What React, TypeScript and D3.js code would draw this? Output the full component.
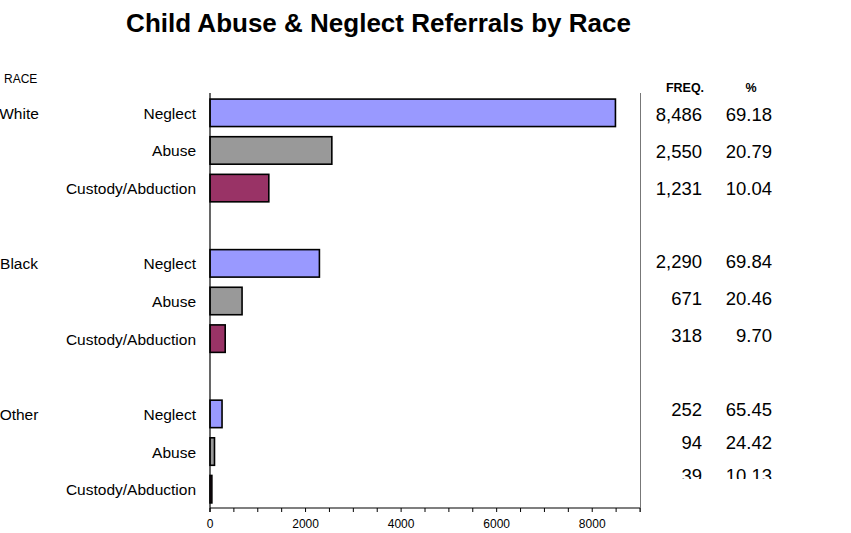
import React from "react";
import * as d3 from "d3";

const title = "Child Abuse & Neglect Referrals by Race";
const races = ["White", "Black", "Other"];
const categories = ["Neglect", "Abuse", "Custody/Abduction"];
const neglectFreq = [8486, 2290, 252];
const abuseFreq = [2550, 671, 94];
const custodyFreq = [1231, 318, 39];
const neglectPct = [69.18, 69.84, 65.45];
const abusePct = [20.79, 20.46, 24.42];
const custodyPct = [10.04, 9.7, 10.13];
const xTickLabels = [0, 2000, 4000, 6000, 8000];
const xMax = 9000;
const minorStep = 500;

const colors: Record<string, string> = {
  Neglect: "#9999FF",
  Abuse: "#999999",
  "Custody/Abduction": "#993366",
};

const W = 851;
const H = 533;
const plotLeft = 210;
const plotRight = 640;
const plotTop = 94;
const plotBottom = 508;
const FONT = "'Liberation Sans', Arial, Helvetica, sans-serif";

type Row = { key: string; race: string; cat: string; freq: number; pct: number; idx: number; first: boolean };

export default function App() {
  const freqByCat = [neglectFreq, abuseFreq, custodyFreq];
  const pctByCat = [neglectPct, abusePct, custodyPct];

  const rows: Row[] = [];
  const slots: string[] = [];
  races.forEach((race, ri) => {
    categories.forEach((cat, ci) => {
      const key = `${race}|${cat}`;
      rows.push({ key, race, cat, freq: freqByCat[ci][ri], pct: pctByCat[ci][ri], idx: slots.length, first: ci === 0 });
      slots.push(key);
    });
    if (ri < races.length - 1) slots.push(`gap${ri}`);
  });

  const x = d3.scaleLinear().domain([0, xMax]).range([plotLeft, plotRight]);
  const y = d3
    .scaleBand<string>()
    .domain(slots)
    .range([plotTop, plotBottom])
    .paddingInner(0.27)
    .paddingOuter(0.135);

  // table row baselines (separate text box in the original)
  const tableY = d3.scaleLinear().domain([0, 4, 8, 10]).range([121, 268, 416, 482]);

  const minorTicks = d3.range(0, xMax + 1, minorStep);
  const fmtFreq = d3.format(",");
  const fmtPct = (v: number) => v.toFixed(2);

  return (
    <svg
      width={W}
      height={H}
      style={{ position: "absolute", left: 0, top: 0, display: "block", background: "#fff" }}
      fontFamily={FONT}
    >
      <defs>
        <clipPath id="tableClip">
          <rect x={645} y={60} width={200} height={419} />
        </clipPath>
      </defs>
      <rect x={0} y={0} width={W} height={H} fill="#fff" />

      <text x={378.5} y={31.5} textAnchor="middle" fontSize={26} fontWeight="bold" fill="#000">
        {title}
      </text>

      <text x={4} y={83} fontSize={12} fill="#000">RACE</text>

      {/* bars */}
      {rows.map((r) => (
        <rect
          key={r.key}
          x={x(0)}
          y={y(r.key)!}
          width={Math.max(0, x(r.freq) - x(0))}
          height={y.bandwidth()}
          fill={colors[r.cat]}
          stroke="#000"
          strokeWidth={1.6}
        />
      ))}

      {/* category labels */}
      {rows.map((r) => (
        <text
          key={"c" + r.key}
          x={196}
          y={y(r.key)! + y.bandwidth() / 2 + 6}
          textAnchor="end"
          fontSize={15.5}
          fill="#000"
        >
          {r.cat}
        </text>
      ))}

      {/* race labels */}
      {rows
        .filter((r) => r.first)
        .map((r) => (
          <text
            key={"r" + r.race}
            x={19}
            y={y(r.key)! + y.bandwidth() / 2 + 6}
            textAnchor="middle"
            fontSize={15.5}
            fill="#000"
          >
            {r.race}
          </text>
        ))}

      {/* left axis line */}
      <line x1={plotLeft} x2={plotLeft} y1={plotTop - 1} y2={plotBottom + 4} stroke="#000" strokeWidth={1.2} />
      {/* right border line */}
      <line x1={plotRight + 0.5} x2={plotRight + 0.5} y1={plotTop - 1} y2={plotBottom + 4} stroke="#777" strokeWidth={1} />

      {/* x axis */}
      <line x1={plotLeft} x2={plotRight} y1={plotBottom} y2={plotBottom} stroke="#000" strokeWidth={1.2} />
      {minorTicks.map((t) => (
        <line key={"t" + t} x1={x(t)} x2={x(t)} y1={plotBottom} y2={plotBottom + 4} stroke="#000" strokeWidth={1} />
      ))}
      {xTickLabels.map((t) => (
        <text key={"l" + t} x={x(t)} y={528} textAnchor="middle" fontSize={12} fill="#000">
          {t}
        </text>
      ))}

      {/* table */}
      <text x={685} y={92} textAnchor="middle" fontSize={12.5} fontWeight="bold" fill="#000">FREQ.</text>
      <text x={751} y={92} textAnchor="middle" fontSize={12.5} fontWeight="bold" fill="#000">%</text>
      <g clipPath="url(#tableClip)">
        {rows.map((r) => (
          <g key={"tb" + r.key}>
            <text x={702} y={tableY(r.idx)} textAnchor="end" fontSize={18.5} fill="#000">
              {fmtFreq(r.freq)}
            </text>
            <text x={772} y={tableY(r.idx)} textAnchor="end" fontSize={18.5} fill="#000">
              {fmtPct(r.pct)}
            </text>
          </g>
        ))}
      </g>
    </svg>
  );
}
